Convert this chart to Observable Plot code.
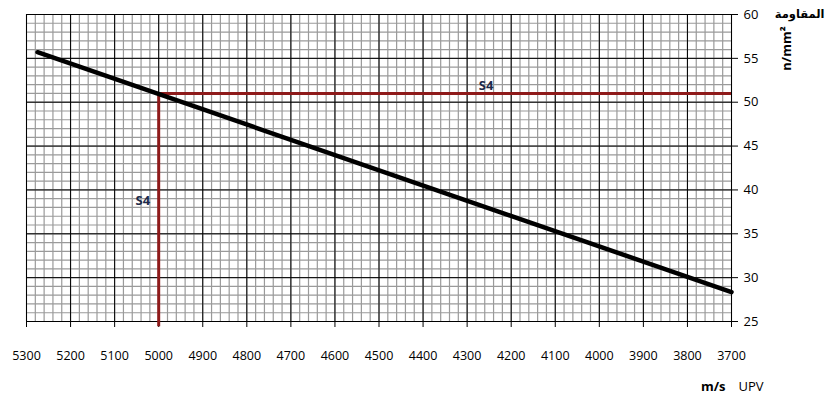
<!DOCTYPE html>
<html><head><meta charset="utf-8">
<script src="https://cdn.jsdelivr.net/npm/d3@7"></script>
<script src="https://cdn.jsdelivr.net/npm/@observablehq/plot@0.6"></script>
<style>body{margin:0;background:#fff;font-family:"Open Sans",sans-serif}</style>
</head><body><div id="chart"></div>
<script>
// Data
const upv = [5275, 3700];
const strength = [55.7, 28.35];
const s4Upv = [5000];
const s4Strength = [51];
const xTicks = [5300,5200,5100,5000,4900,4800,4700,4600,4500,4400,4300,4200,4100,4000,3900,3800,3700];
const yTicks = [25,30,35,40,45,50,55,60];
const xMinor = d3.range(3700, 5301, 20);
const yMinor = d3.range(25, 61, 1);
const labels = [{x: 4257, y: 51.9, t: "S4"}, {x: 5036, y: 38.8, t: "S4"}];

const line = upv.map((u, i) => ({u, s: strength[i]}));
const red = "#8e1a1a";
const font = "'Open Sans', sans-serif";

const chart = Plot.plot({
  width: 826, height: 397,
  marginLeft: 26, marginRight: 95, marginTop: 14, marginBottom: 76,
  style: {fontFamily: font, fontSize: "12px", background: "#fff"},
  x: {domain: [5300, 3700]},
  y: {domain: [25, 60]},
  marks: [
    Plot.ruleX(xMinor, {stroke: "#9a9a9a", strokeWidth: 1.2}),
    Plot.ruleY(yMinor, {stroke: "#9a9a9a", strokeWidth: 1.2}),
    Plot.ruleX(xTicks, {stroke: "#000", strokeWidth: 1}),
    Plot.ruleY(yTicks, {stroke: "#000", strokeWidth: 1}),
    Plot.axisX({ticks: xTicks, tickSize: 6, tickPadding: 24, label: null, tickFormat: d => String(d), fontSize: 12.5, stroke: "#000"}),
    Plot.axisY({anchor: "right", ticks: yTicks, tickSize: 6, tickPadding: 6, label: null, fontSize: 13}),
    Plot.ruleY(s4Strength, {x1: s4Upv[0], x2: 3700, stroke: red, strokeWidth: 3}),
    Plot.ruleX(s4Upv, {y1: 24.4, y2: s4Strength[0], stroke: red, strokeWidth: 3, clip: false}),
    Plot.line(line, {x: "u", y: "s", stroke: "#000", strokeWidth: 4.5}),
    Plot.text(labels, {x: "x", y: "y", text: "t", fill: "#1c2a4a", fontWeight: "bold", fontSize: 13}),
    Plot.text(["المقاومة"], {frameAnchor: "top-right", dx: 93, dy: -5, textAnchor: "end", fontWeight: "bold", fontSize: 11.5, fill: "#000", fontFamily: "'DejaVu Sans', sans-serif"}),
    Plot.text(["n/mm²"], {frameAnchor: "top-right", dx: 55, dy: 34, rotate: -90, textAnchor: "middle", lineAnchor: "middle", fontWeight: "bold", fontSize: 13, fill: "#000"}),
    Plot.text(["m/s"], {frameAnchor: "bottom-right", dx: -6, dy: 69, textAnchor: "end", fontWeight: "bold", fontSize: 13, fill: "#000"}),
    Plot.text(["UPV"], {frameAnchor: "bottom-right", dx: 7, dy: 69, textAnchor: "start", fontSize: 13, fill: "#000"})
  ]
});
document.getElementById("chart").appendChild(chart);
</script></body></html>
